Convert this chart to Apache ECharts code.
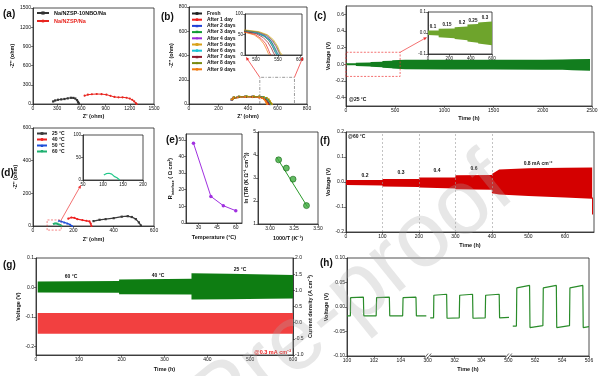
<!DOCTYPE html>
<html>
<head>
<meta charset="utf-8">
<script src="https://cdn.jsdelivr.net/npm/echarts@6/dist/echarts.min.js"></script>
<style>
  html, body { margin: 0; padding: 0; background: #fff; }
  #chart { width: 600px; height: 376px; }
</style>
</head>
<body>
<div id="chart"></div>
<script>
// ============================
// 1. 数据
// ============================

// (a) Nyquist, two cells
const aBlack = [[250,40],[275,55],[310,66],[350,72],[390,78],[430,88],[470,97],[500,95],[525,85],[545,60],[558,35],[566,12],[570,0]];
const aRed = [[640,130],[680,145],[730,152],[790,156],[850,154],[910,146],[960,128],[1010,110],[1060,104],[1110,104],[1160,98],[1200,85],[1230,65],[1255,40],[1275,15],[1285,0]];

// (b) ageing, 10 curves
const bNames = ['Fresh','After 1 day','After 2 days','After 3 days','After 4 days','After 5 days','After 6 days','After 7 days','After 8 days','After 9 days'];
const bFresh = [[290,38],[300,50],[330,57],[380,60],[430,60],[476,58],[500,54],[518,46],[530,35],[538,20],[544,6],[548,0]];
const bDay1 = [[292,40],[302,52],[335,58],[385,60],[435,59],[476,56],[498,50],[512,40],[522,28],[528,14],[532,3],[535,0]];
const bDay2 = [[288,36],[300,50],[330,58],[380,61],[430,61],[476,59],[502,55],[520,47],[533,36],[541,20],[547,6],[551,0]];
const bDay3 = [[294,41],[304,53],[340,59],[390,61],[440,60],[476,58],[503,54],[522,45],[535,33],[543,18],[549,5],[553,0]];
const bDay4 = [[290,39],[302,52],[335,59],[385,62],[435,61],[476,59],[505,55],[524,47],[537,35],[546,20],[552,6],[556,0]];
const bDay5 = [[296,42],[306,55],[340,61],[390,63],[440,62],[476,61],[507,57],[527,49],[540,37],[549,22],[555,7],[560,0]];
const bDay6 = [[291,38],[303,51],[335,58],[385,61],[435,60],[476,58],[502,54],[519,46],[531,35],[539,20],[545,6],[549,0]];
const bDay7 = [[293,40],[305,53],[338,59],[388,61],[438,60],[476,57],[500,52],[516,43],[527,31],[535,17],[540,5],[543,0]];
const bDay8 = [[295,41],[306,54],[340,60],[390,62],[440,61],[476,60],[505,56],[525,48],[538,36],[547,21],[553,7],[557,0]];
const bDay9 = [[289,37],[300,49],[330,55],[380,58],[430,57],[476,55],[496,49],[509,39],[518,27],[524,14],[528,4],[531,0]];
const bZoomBox = [[480,0],[480,220],[715,220],[715,0]];

// (c) 25 °C cycling, envelope of the voltage band
const cT  = [0, 100, 100, 250, 250, 370, 370, 470, 470, 600, 1000, 1500, 2000, 2200, 2300, 2480];
const cUp = [0.012, 0.012, 0.020, 0.022, 0.027, 0.031, 0.040, 0.043, 0.050, 0.055, 0.056, 0.055, 0.056, 0.058, 0.062, 0.065];
const cLo = [-0.010, -0.012, -0.020, -0.025, -0.028, -0.034, -0.040, -0.046, -0.050, -0.058, -0.062, -0.063, -0.064, -0.066, -0.072, -0.078];
const cZoomBox = [[0,-0.145],[0,0.145],[550,0.145],[550,-0.145],[0,-0.145]];
const cSteps = ['0.1', '0.15', '0.2', '0.25', '0.3'];

// (d) temperature
const dNames = ['25 °C', '40 °C', '50 °C', '60 °C'];
const d25 = [[300,30],[330,38],[360,42],[400,48],[440,57],[470,60],[490,55],[510,42],[525,22],[535,3]];
const d40 = [[175,45],[190,52],[205,50],[220,42],[245,36],[265,32],[280,28],[286,15],[290,0]];
const d50 = [[128,33],[140,28],[155,22],[170,16],[185,8],[195,0]];
const d60 = [[102,11],[108,14],[115,15],[122,13],[128,8],[135,5],[142,0]];
const dZoomBox = [[70,-25],[70,37],[140,37],[140,-25],[70,-25]];

// (e) interface resistance and Arrhenius
const eTemp = [26, 40, 50, 60];
const eRes = [48, 16, 10.4, 7.4];
const eInvT = [3.09, 3.17, 3.24, 3.38];
const eLn = [3.79, 3.43, 2.95, 1.80];
const eFit = [[3.07, 3.90], [3.39, 1.75]];

// (f) 60 °C rate test
const fT  = [0, 100, 100, 200, 200, 300, 300, 400, 400, 420, 500, 600, 675];
const fUp = [0.008, 0.008, 0.012, 0.012, 0.018, 0.018, 0.027, 0.028, 0.032, 0.050, 0.055, 0.057, 0.058];
const fLo = [-0.012, -0.014, -0.018, -0.020, -0.022, -0.026, -0.029, -0.031, -0.045, -0.050, -0.056, -0.062, -0.067];
const fSwitch = [100, 200, 300, 400];
const fSpike = [[676, -0.062], [676, -0.13]];

// (g) temperature switching, voltage (left) and current (right)
const gT  = [4, 194, 194, 363, 363, 450, 540, 600];
const gUp = [0.020, 0.022, 0.027, 0.029, 0.048, 0.046, 0.044, 0.042];
const gLo = [-0.017, -0.018, -0.023, -0.024, -0.041, -0.040, -0.039, -0.038];
const gIT  = [4, 600];
const gIUp = [0.30, 0.30];
const gILo = [-0.34, -0.34];

// (h) voltage profiles, three windows of 6 h
const hBase = [100, 300, 500];
const hT1 = [100.0, 100.25, 100.27, 101.22, 101.25, 102.17, 102.2, 103.15, 103.18, 104.14, 104.17, 105.13, 105.16, 105.9];
const hV1 = [-0.018, -0.018, 0.019, 0.020, -0.018, -0.018, 0.019, 0.020, -0.018, -0.018, 0.019, 0.020, -0.018, -0.018];
const hT2 = [300.19, 300.44, 300.46, 301.41, 301.44, 302.35, 302.38, 303.34, 303.37, 304.28, 304.31, 305.32, 305.35, 306.05];
const hV2 = [-0.022, -0.022, 0.024, 0.026, -0.023, -0.022, 0.024, 0.026, -0.023, -0.022, 0.024, 0.026, -0.022, -0.021];
const hT3 = [500.33, 500.6, 500.63, 501.58, 501.61, 502.57, 502.6, 503.57, 503.6, 504.55, 504.58, 505.54, 505.57, 506.0];
const hV3 = [-0.039, -0.039, 0.039, 0.044, -0.042, -0.038, 0.039, 0.044, -0.042, -0.038, 0.039, 0.044, -0.042, -0.040];
const hTicks = [0, 2, 4, 6, 8, 10, 12, 14, 16, 18];

// ============================
// 2. 辅助函数
// ============================
const FONT = 'Liberation Sans, Arial, sans-serif';

function grid(left, top, width, height) {
    return { left, top, width, height, show: true, borderColor: '#222', borderWidth: 0.8, outerBoundsMode: 'none' };
}

function ax(gi, min, max, o) {
    o = o || {};
    const a = {
        type: 'value', gridIndex: gi, min, max,
        name: o.name || '', nameLocation: 'middle', nameGap: o.gap || 10,
        axisLine: { show: true, onZero: false, lineStyle: { color: '#222', width: 0.8 } },
        axisTick: { show: true, length: 2, lineStyle: { color: '#222', width: 0.6 } },
        axisLabel: { fontSize: o.fs || 5, color: '#111', margin: 2, fontFamily: FONT, formatter: o.fmt || (v => String(v)) },
        splitLine: { show: false },
        nameTextStyle: { fontSize: 5.5, fontWeight: 'bold', color: '#111', fontFamily: FONT }
    };
    if (o.position) a.position = o.position;
    if (o.interval) a.interval = o.interval;
    if (o.vals) { a.axisLabel.customValues = o.vals; a.axisTick.customValues = o.vals; }
    if (o.rich) a.nameTextStyle.rich = o.rich;
    return a;
}

function curve(gi, name, data, color, symbol, extra) {
    return Object.assign({
        type: 'line', name, xAxisIndex: gi, yAxisIndex: gi, data,
        symbol: symbol || 'none', symbolSize: 2.2, showSymbol: !!symbol,
        lineStyle: { color, width: 1 }, itemStyle: { color },
        z: 3
    }, extra || {});
}

// voltage band drawn as the polygon between the upper and lower envelope
function band(xi, yi, t, up, lo, color) {
    return {
        type: 'custom', xAxisIndex: xi, yAxisIndex: yi, clip: true, silent: true,
        data: [[t[0], up[0]]],
        renderItem: (params, api) => {
            const pts = t.map((x, i) => api.coord([x, up[i]]));
            for (let i = t.length - 1; i >= 0; i--) pts.push(api.coord([t[i], lo[i]]));
            return { type: 'polygon', shape: { points: pts }, style: { fill: color } };
        }
    };
}

function txt(x, y, s, o) {
    o = o || {};
    return {
        type: 'text', x, y, z: 60,
        style: {
            text: s, fontSize: o.fs || 5, fontWeight: o.fw || 'bold', fontFamily: FONT,
            fill: o.color || '#111', align: o.align || 'left', verticalAlign: 'middle',
            textAlign: o.align || 'left', textVerticalAlign: 'middle'
        }
    };
}

// map a time in window k onto the continuous (h) axis
function hData(k, t, v) {
    return t.map((x, i) => [6 * k + (x - hBase[k]), v[i]]);
}
function hLabel(u) {
    const k = Math.min(Math.floor(u / 6), 2);
    return String(Math.round(hBase[k] + u - 6 * k));
}

// ============================
// 3. 图表配置
// ============================
const chart = echarts.init(document.getElementById('chart'));

const bColors = ['#222222','#ee1c1c','#1f3fd6','#119a36','#9a2ad8','#d8a11a','#1ac4d4','#8a1a2a','#7a8a10','#f07a10'];
const bSymbols = ['rect','circle','triangle','path://M0,0L10,0L5,10Z','diamond','rect','circle','triangle','diamond','circle'];
const bSets = [bFresh, bDay1, bDay2, bDay3, bDay4, bDay5, bDay6, bDay7, bDay8, bDay9];
const dColors = ['#3a3a3a', '#ee2020', '#1e4fd8', '#1fb070'];
const dSets = [d25, d40, d50, d60];

const series = [];
// (a)
series.push(curve(0, 'Na/NZSP-10NBO/Na', aBlack, '#333', 'rect'));
series.push(curve(0, 'Na/NZSP/Na', aRed, '#e8251f', 'circle'));
// (b) main + inset
bSets.forEach((d, i) => {
    series.push(curve(1, bNames[i], d, bColors[i], bSymbols[i], { lineStyle: { color: bColors[i], width: 0.9 } }));
    series.push(curve(2, bNames[i], d, bColors[i], null, { lineStyle: { color: bColors[i], width: 0.7 } }));
});
series.push(curve(1, '', bZoomBox, '#555', null, { lineStyle: { color: '#555', width: 0.6, type: [3, 1.5, 1, 1.5] }, z: 2 }));
// (c) main + inset
series.push(band(3, 3, cT, cUp, cLo, '#127d1e'));
series.push(band(4, 4, cT, cUp, cLo, '#6ea42c'));
series.push(curve(3, '', cZoomBox, '#ee3333', null, { lineStyle: { color: '#ee3333', width: 0.7, type: [2, 1.5] }, clip: false }));
// (d) main + inset
dSets.forEach((d, i) => {
    series.push(curve(5, dNames[i], d, dColors[i], ['rect','circle','triangle','path://M0,0L10,0L5,10Z'][i], { lineStyle: { color: dColors[i], width: 1.3 } }));
});
series.push(curve(6, '60 °C', d60, '#22c88a', null, { lineStyle: { color: '#22c88a', width: 1.2 } }));
series.push(curve(5, '', dZoomBox, '#ee3333', null, { lineStyle: { color: '#ee3333', width: 0.6, type: [2, 1.5] }, clip: false }));
// (e)
series.push(curve(7, '', eTemp.map((x, i) => [x, eRes[i]]), '#a030e0', 'circle', { symbolSize: 3.5 }));
series.push(curve(8, '', eFit, '#2a9a2a', null, { lineStyle: { color: '#2a9a2a', width: 1 } }));
series.push({
    type: 'scatter', xAxisIndex: 8, yAxisIndex: 8, symbolSize: 6,
    data: eInvT.map((x, i) => [x, eLn[i]]),
    itemStyle: { color: '#3caa3c', borderColor: '#1a6a1a', borderWidth: 0.8 }, z: 4
});
// (f)
series.push(band(9, 9, fT, fUp, fLo, '#d40000'));
series.push(curve(9, '', fSpike, '#d40000', null, { lineStyle: { color: '#d40000', width: 1 } }));
series.push({
    type: 'line', xAxisIndex: 9, yAxisIndex: 9, data: [],
    markLine: {
        symbol: 'none', silent: true, label: { show: false },
        lineStyle: { type: [2, 2], color: '#9a9a9a', width: 0.6 },
        data: fSwitch.map(x => ({ xAxis: x }))
    }
});
// (g)
series.push(band(10, 12, gIT, gIUp, gILo, '#f24040'));
series.push(band(10, 10, gT, gUp, gLo, '#0e7d12'));
// (h)
[[hT1, hV1], [hT2, hV2], [hT3, hV3]].forEach((s, k) => {
    series.push(curve(11, '', hData(k, s[0], s[1]), '#2a8c2a', null, { lineStyle: { color: '#2a8c2a', width: 1.2 } }));
});

const legendText = { fontSize: 5, fontFamily: FONT, color: '#111', fontWeight: 'bold' };

const option = {
    animation: false,
    backgroundColor: '#fff',
    textStyle: { fontFamily: FONT },
    grid: [
        grid(33, 8, 121, 96),     // 0 a
        grid(189, 7, 118, 97),    // 1 b
        grid(245, 14, 57, 41),    // 2 b inset
        grid(346, 6, 246, 100),   // 3 c
        grid(428, 12, 64, 42),    // 4 c inset
        grid(33, 128, 121, 98),   // 5 d
        grid(83, 135, 60, 45),    // 6 d inset
        grid(186, 134, 56, 89),   // 7 e left
        grid(258, 132, 60, 92),   // 8 e right
        grid(346, 132, 248, 100), // 9 f
        grid(36, 258, 257, 97),   // 10 g
        grid(347, 258, 242, 98)   // 11 h
    ],
    xAxis: [
        ax(0, 0, 1500, { interval: 300, name: "Z' (ohm)", gap: 9 }),
        ax(1, 0, 800, { interval: 200, name: "Z' (ohm)", gap: 9 }),
        ax(2, 475, 605, { vals: [500, 550, 600], fs: 4.5 }),
        ax(3, 0, 2500, { interval: 500, name: 'Time (h)', gap: 9 }),
        ax(4, 0, 600, { interval: 200, fs: 4.5 }),
        ax(5, 0, 600, { interval: 200, name: "Z' (ohm)", gap: 10 }),
        ax(6, 50, 200, { interval: 50, fs: 4.5 }),
        ax(7, 20, 65, { vals: [30, 45, 60], name: 'Temperature (°C)', gap: 11 }),
        ax(8, 2.875, 3.5, { vals: [3, 3.25, 3.5], fmt: v => v.toFixed(2), name: '1000/T (K⁻¹)', gap: 11 }),
        ax(9, 0, 680, { vals: [0, 100, 200, 300, 400, 500, 600], name: 'Time (h)', gap: 10 }),
        ax(10, 0, 600, { interval: 100, name: 'Time (h)', gap: 11 }),
        ax(11, 0, 18, { vals: hTicks, fmt: hLabel, name: 'Time (h)', gap: 10 })
    ],
    yAxis: [
        ax(0, 0, 1500, { interval: 300, name: "-Z'' (ohm)", gap: 14 }),
        ax(1, 0, 800, { interval: 200, name: "-Z'' (ohm)", gap: 14 }),
        ax(2, 0, 100, { vals: [0, 50, 100], fs: 4.5 }),
        ax(3, -0.5, 0.7, { vals: [-0.4, -0.2, 0, 0.2, 0.4, 0.6], fmt: v => v.toFixed(1), name: 'Voltage (V)', gap: 14 }),
        ax(4, -0.1, 0.1, { vals: [-0.1, 0, 0.1], fmt: v => v.toFixed(1), fs: 4.5 }),
        ax(5, 0, 600, { interval: 200, name: "-Z'' (ohm)", gap: 12 }),
        ax(6, 0, 100, { vals: [0, 50, 100], fs: 4.5 }),
        ax(7, 0, 53.5, {
            vals: [0, 10, 20, 30, 40, 50], name: '{i|R}{s|interface}{i| ( Ω cm²)}', gap: 10,
            rich: { i: { fontSize: 5.5, fontWeight: 'bold' }, s: { fontSize: 3.6, fontWeight: 'bold', verticalAlign: 'bottom', lineHeight: 8 } }
        }),
        ax(8, 1, 5, { interval: 1, name: 'ln (T/R (K Ω⁻¹ cm⁻²))', gap: 6 }),
        ax(9, -0.2, 0.2, { interval: 0.1, fmt: v => v.toFixed(1), name: 'Voltage (V)', gap: 15 }),
        ax(10, -0.23, 0.1, { vals: [-0.2, -0.1, 0, 0.1], fmt: v => v.toFixed(1), name: 'Voltage (V)', gap: 13 }),
        ax(11, -0.1, 0.1, { interval: 0.05, fmt: v => v.toFixed(2), name: 'Voltage (V)', gap: 17 }),
        ax(10, -1, 2, { interval: 0.5, position: 'right', fmt: v => v.toFixed(1), name: 'Current density (A cm⁻²)', gap: 13 })
    ],
    legend: [
        {
            data: [{ name: 'Na/NZSP-10NBO/Na' }, { name: 'Na/NZSP/Na', textStyle: { color: '#e8251f' } }],
            left: 36, top: 10, orient: 'vertical', padding: 0, itemWidth: 12, itemHeight: 4, itemGap: 2,
            textStyle: Object.assign({}, legendText, { fontSize: 5.5 })
        },
        {
            data: bNames, left: 191, top: 11, orient: 'vertical', padding: 0,
            itemWidth: 10, itemHeight: 3.5, itemGap: 1.2, textStyle: legendText
        },
        {
            data: dNames, left: 36, top: 131, orient: 'vertical', padding: 0,
            itemWidth: 10, itemHeight: 3.5, itemGap: 1, textStyle: legendText
        }
    ],
    series
};

chart.setOption(option);

// ============================
// 4. 注释 (panel letters, labels, arrows, watermark)
// ============================
const px = (g, p) => chart.convertToPixel({ xAxisIndex: g, yAxisIndex: g }, p);

function arrow(p1, p2, color) {
    const dx = p2[0] - p1[0], dy = p2[1] - p1[1];
    const len = Math.sqrt(dx * dx + dy * dy), ux = dx / len, uy = dy / len;
    const hl = 3.5, hw = 1.6;
    const b = [p2[0] - ux * hl, p2[1] - uy * hl];
    return [
        { type: 'line', z: 55, shape: { x1: p1[0], y1: p1[1], x2: b[0], y2: b[1] }, style: { stroke: color, lineWidth: 0.7 } },
        { type: 'polygon', z: 55, shape: { points: [p2, [b[0] - uy * hw, b[1] + ux * hw], [b[0] + uy * hw, b[1] - ux * hw]] }, style: { fill: color } }
    ];
}

const graphic = [];
// panel letters
[['(a)', 3, 14], ['(b)', 161, 17], ['(c)', 314, 16], ['(d)', 1, 173], ['(e)', 166, 140], ['(f)', 320, 141], ['(g)', 3, 265], ['(h)', 320, 263]]
    .forEach(l => graphic.push(txt(l[1], l[2], l[0], { fs: 10 })));

// arrows from zoom boxes to insets
const bi0 = px(2, [475, 0]), bi1 = px(2, [605, 0]);
graphic.push(...arrow(px(1, [480, 220]), [bi0[0] + 1, bi0[1] + 2], '#ee2222'));
graphic.push(...arrow(px(1, [715, 220]), [bi1[0] + 1, bi1[1] + 2], '#ee2222'));
const ci0 = px(4, [0, -0.02]);
graphic.push(...arrow(px(3, [550, 0.145]), [ci0[0] - 1, ci0[1]], '#ee3333'));
const di0 = px(6, [50, 0]);
graphic.push(...arrow(px(5, [140, 37]), [di0[0] - 2, di0[1] + 5], '#ee3333'));

// (c) labels
const cLabPos = [[433, 27], [447, 25], [462, 23], [473, 21], [485, 18]];
cSteps.forEach((s, i) => graphic.push(txt(cLabPos[i][0], cLabPos[i][1], s, { fs: 4.5, align: 'center' })));
graphic.push(txt(349, 100, '@25 °C', { fs: 5 }));

// (f) labels
graphic.push(txt(348, 137, '@60 °C', { fs: 5 }));
[['0.2', 365, 176], ['0.3', 401, 173], ['0.4', 437, 171], ['0.6', 474, 169], ['0.8 mA cm⁻²', 538, 164]]
    .forEach(l => graphic.push(txt(l[1], l[2], l[0], { fs: 5, align: 'center' })));

// (g) labels
graphic.push(txt(71, 277, '60 °C', { fs: 5, align: 'center' }));
graphic.push(txt(158, 276, '40 °C', { fs: 5, align: 'center' }));
graphic.push(txt(240, 270, '25 °C', { fs: 5, align: 'center' }));
graphic.push(txt(291, 352, '@0.3 mA cm⁻²', { fs: 5.5, align: 'right', color: '#ee2020' }));

// (h) axis breaks
[6, 12].forEach(u => {
    const p = px(11, [u, -0.1]);
    graphic.push({ type: 'rect', z: 56, shape: { x: p[0] - 2.5, y: p[1] - 1, width: 5, height: 2 }, style: { fill: '#fff' } });
    [-1.5, 1.5].forEach(o => graphic.push({
        type: 'line', z: 57, shape: { x1: p[0] + o - 2, y1: p[1] + 2.5, x2: p[0] + o + 2, y2: p[1] - 2.5 },
        style: { stroke: '#222', lineWidth: 0.7 }
    }));
});

// watermark
graphic.push({
    type: 'text', x: 502, y: 176, rotation: 0.68, z: 100, silent: true,
    style: {
        text: 'Journal Pre-proof', fontSize: 92, fontFamily: FONT, fill: 'rgba(170,170,170,0.28)',
        align: 'right', verticalAlign: 'middle', textAlign: 'right', textVerticalAlign: 'middle'
    }
});

chart.setOption({ graphic });
</script>
</body>
</html>
